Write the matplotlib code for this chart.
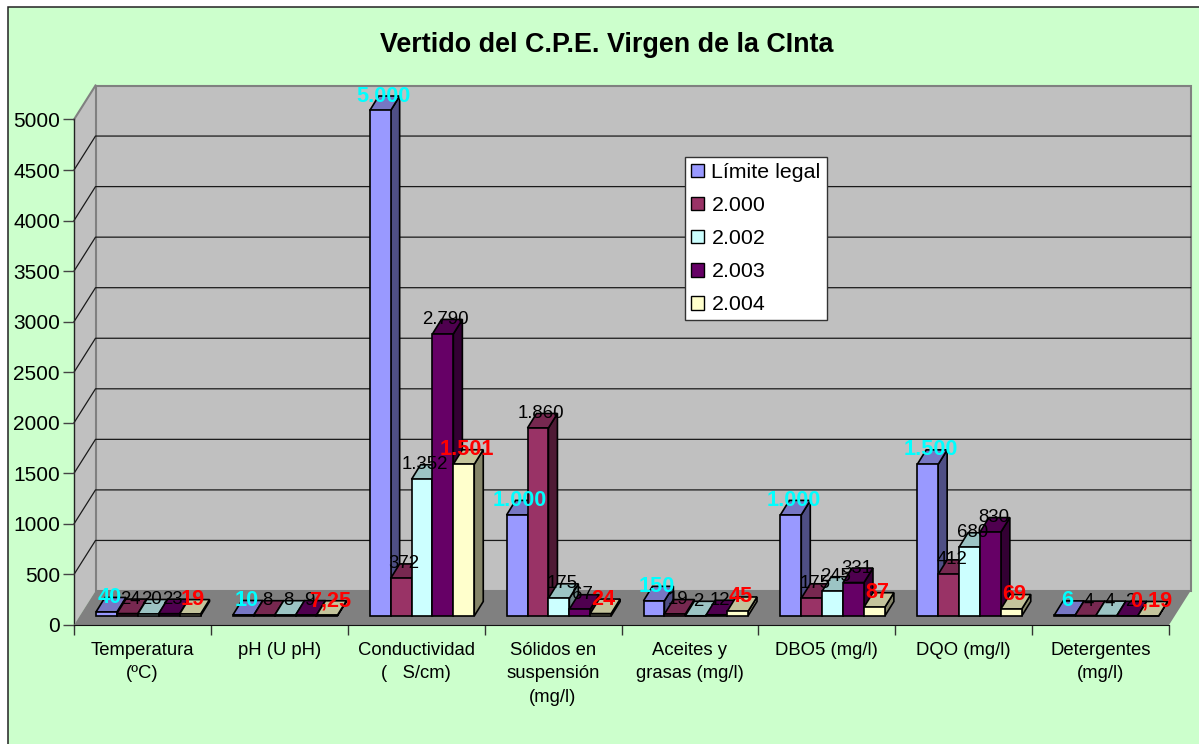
#!/usr/bin/env python3
# -*- coding: utf-8 -*-

import matplotlib
matplotlib.use("Agg")
import matplotlib.pyplot as plt
from matplotlib.patches import Patch, Polygon, Rectangle

categories = [
    "Temperatura\n(ºC)",
    "pH (U pH)",
    "Conductividad\n(   S/cm)",
    "Sólidos en\nsuspensión\n(mg/l)",
    "Aceites y\ngrasas (mg/l)",
    "DBO5 (mg/l)",
    "DQO (mg/l)",
    "Detergentes\n(mg/l)",
]
series_names = ["Límite legal", "2.000", "2.002", "2.003", "2.004"]

limite = [40, 10, 5000, 1000, 150, 1000, 1500, 6]
y2000 = [24, 8, 372, 1860, 19, 175, 412, 4]
y2002 = [20, 8, 1352, 175, 2, 245, 680, 4]
y2003 = [23, 9, 2790, 67, 12, 331, 830, 2]
y2004 = [19, 7.25, 1501, 24, 45, 87, 69, 0.19]

limite_labels = ["40", "10", "5.000", "1.000", "150", "1.000", "1.500", "6"]
y2000_labels = ["24", "8", "372", "1.860", "19", "175", "412", "4"]
y2002_labels = ["20", "8", "1.352", "175", "2", "245", "680", "4"]
y2003_labels = ["23", "9", "2.790", "67", "12", "331", "830", "2"]
y2004_labels = ["19", "7,25", "1.501", "24", "45", "87", "69", "0,19"]

yticks = [0, 500, 1000, 1500, 2000, 2500, 3000, 3500, 4000, 4500, 5000]

front = ["#9999FF", "#993366", "#CCFFFF", "#660066", "#FFFFCC"]
top = ["#7777C4", "#772850", "#9CC4C4", "#4F004F", "#C4C49C"]
side = ["#4F4F85", "#4F1A35", "#6A8585", "#330033", "#858569"]
label_colors = ["#00FFFF", "black", "black", "black", "#FF0000"]

W, H = 1199, 744
X0, X1 = 74, 1169
Y0, Y5000 = 625, 119.5

plt.rcParams["font.family"] = ["Liberation Sans", "DejaVu Sans"]
fig = plt.figure(figsize=(W / 100, H / 100), dpi=100, facecolor="white")

# chart area with its frame, open at the right and bottom of the picture
fig.add_artist(Rectangle((8 / W, -0.01), 1.1, 1.01 - 6.5 / H, transform=fig.transFigure,
                         facecolor="#CCFFCC", edgecolor="#222222", linewidth=1.1, zorder=-1))

ax = fig.add_axes([X0 / W, 1 - Y0 / H, (X1 - X0) / W, (Y0 - Y5000) / H])
ax.set_xlim(0, 8)
ax.set_ylim(0, 5000)
ax.patch.set_visible(False)
for name in ["top", "right", "left"]:
    ax.spines[name].set_visible(False)
ax.spines["bottom"].set_color("#111111")

# pixel sizes to data units
px_x = 8 / (X1 - X0)
px_y = 5000 / (Y0 - Y5000)

wall_dx = 21.5 * px_x
wall_dy = 34 * px_y
bar_dy0 = 9 * px_y
bar_dx = 9 * px_x
bar_dy = 14.5 * px_y
bar_w = 20.9 * px_x
group_start = 22 * px_x


def poly(points, **kw):
    ax.add_patch(Polygon(points, closed=True, clip_on=False, **kw))


# walls and floor
poly([(0, 0), (wall_dx, wall_dy), (wall_dx, 5000 + wall_dy), (0, 5000)],
     facecolor="#C0C0C0", edgecolor="none", zorder=1)
poly([(wall_dx, wall_dy), (8 + wall_dx, wall_dy), (8 + wall_dx, 5000 + wall_dy), (wall_dx, 5000 + wall_dy)],
     facecolor="#C0C0C0", edgecolor="#808080", linewidth=1.5, zorder=1)
poly([(0, 0), (8, 0), (8 + wall_dx, wall_dy), (wall_dx, wall_dy)],
     facecolor="#808080", edgecolor="none", zorder=1.5)

for v in yticks[1:-1]:
    ax.plot([0, wall_dx, 8 + wall_dx], [v, v + wall_dy, v + wall_dy],
            color="#1A1A1A", linewidth=0.9, clip_on=False, zorder=1.2)
ax.plot([0, wall_dx], [5000, 5000 + wall_dy], color="#808080", linewidth=1.5, clip_on=False, zorder=1.2)
ax.plot([0, 0], [0, 5000], color="#222222", linewidth=1.0, clip_on=False, zorder=1.3)

# bars, left to right so later bars cover the sides of earlier ones
all_series = [limite, y2000, y2002, y2003, y2004]
all_labels = [limite_labels, y2000_labels, y2002_labels, y2003_labels, y2004_labels]
z = 2.0
for g in range(len(categories)):
    for s, values in enumerate(all_series):
        v = values[g]
        left = g + group_start + s * bar_w
        base = bar_dy0
        right = left + bar_w
        ytop = base + v
        poly([(right, base), (right + bar_dx, base + bar_dy), (right + bar_dx, ytop + bar_dy), (right, ytop)],
             facecolor=side[s], edgecolor="black", linewidth=1.2, zorder=z)
        poly([(left, ytop), (right, ytop), (right + bar_dx, ytop + bar_dy), (left + bar_dx, ytop + bar_dy)],
             facecolor=top[s], edgecolor="black", linewidth=1.2, zorder=z)
        ax.bar(left, v, bar_w, bottom=base, align="edge", color=front[s], edgecolor="black",
               linewidth=1.2, clip_on=False, zorder=z + 0.01)
        z += 0.02

# data labels sit at the back edge of the bar top
for g in range(len(categories)):
    for s, values in enumerate(all_series):
        left = g + group_start + s * bar_w
        bold = s in (0, 4)
        ax.text(left + bar_w / 2 + 3 * px_x, bar_dy0 + values[g] + bar_dy,
                all_labels[s][g], color=label_colors[s], ha="center", va="center",
                fontsize=15.6 if bold else 13.4, fontweight="bold" if bold else "normal",
                zorder=10, clip_on=False)

ax.set_yticks(yticks)
ax.tick_params(axis="y", length=8, width=1.0, color="#444444", labelsize=15, pad=2)
ax.set_xticks(range(9))
ax.set_xticklabels([])
ax.tick_params(axis="x", which="major", length=7, width=1.0, color="#333333")
ax.set_xticks([g + 0.5 for g in range(8)], minor=True)
ax.set_xticklabels(categories, minor=True, fontsize=13.3, linespacing=1.5)
ax.tick_params(axis="x", which="minor", length=0, pad=12)

# legend
handles = [Patch(facecolor=front[i], edgecolor="black", linewidth=1.0) for i in range(5)]
leg = ax.legend(handles, series_names, loc="upper left", bbox_to_anchor=(684.7 / W, 1 - 157 / H),
                bbox_transform=fig.transFigure, borderaxespad=0, fontsize=15.4, frameon=True,
                fancybox=False, framealpha=1, facecolor="white", edgecolor="#333333",
                handlelength=0.6, handleheight=0.6, handletextpad=0.37, labelspacing=0.66,
                borderpad=0.28)
leg.set_zorder(20)

fig.text(606.5 / W, 1 - 45.5 / H, "Vertido del C.P.E. Virgen de la CInta", ha="center", va="center",
         fontsize=19.4, fontweight="bold", color="black")

fig.savefig("out.png", dpi=100, facecolor=fig.get_facecolor())
